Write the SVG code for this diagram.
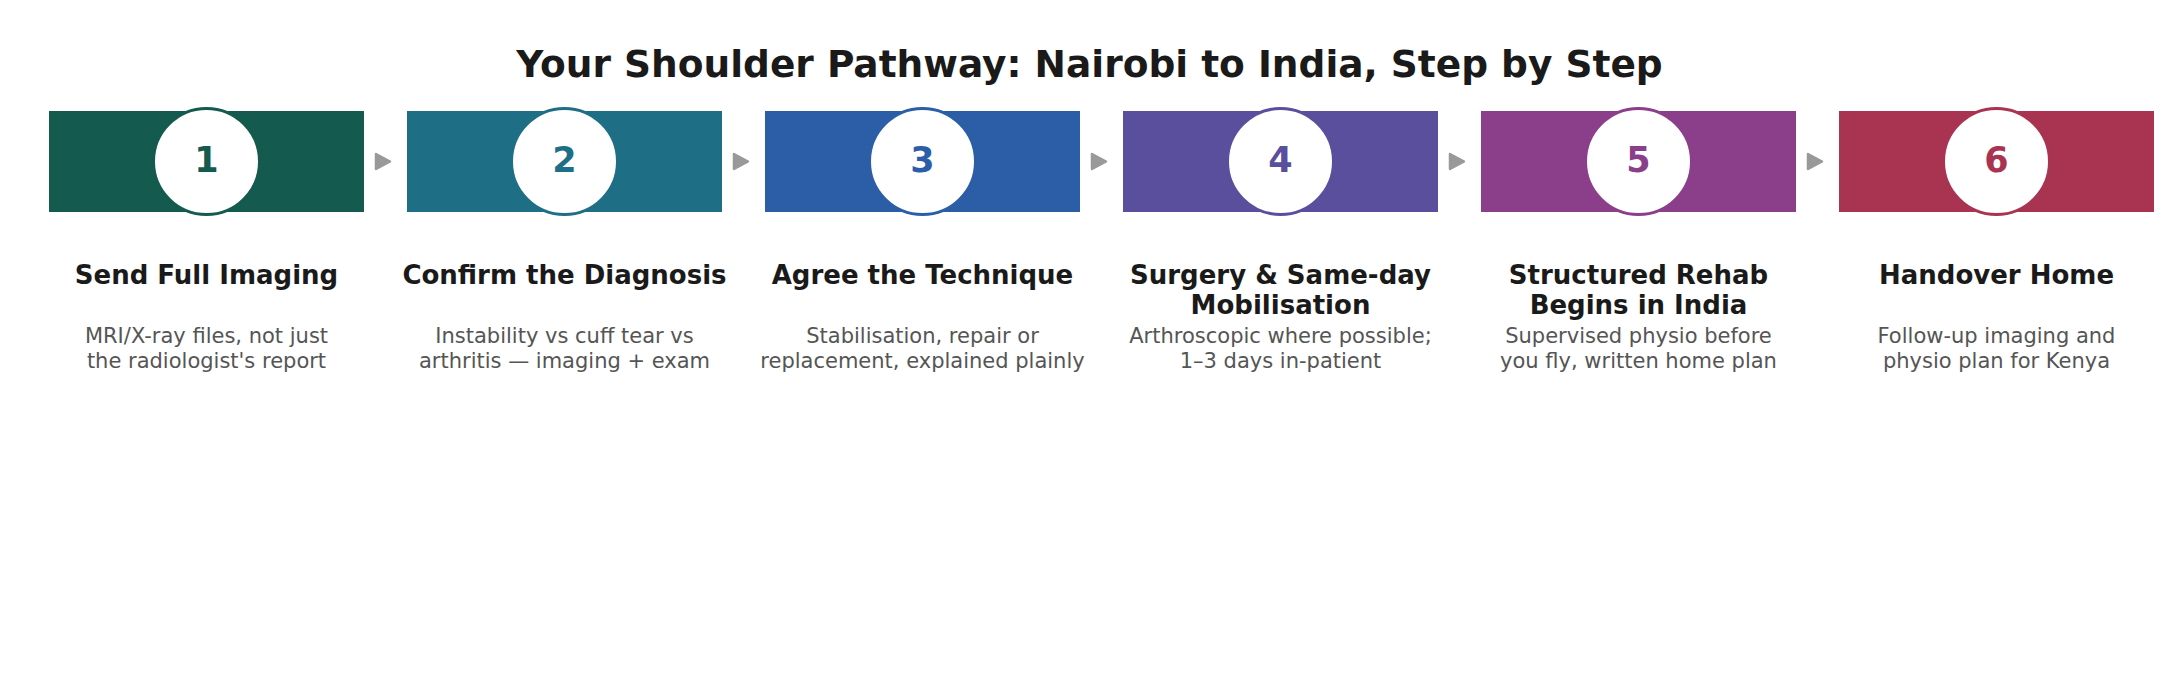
<svg xmlns="http://www.w3.org/2000/svg" width="2179" height="699" viewBox="0 0 2179 699">
<style>
.title{font-family:"DejaVu Sans",sans-serif;font-weight:bold;font-size:37.5px;fill:#1a1a1a;text-anchor:middle}
.num{font-family:"DejaVu Sans",sans-serif;font-weight:bold;font-size:35px;text-anchor:middle}
.head{font-family:"DejaVu Sans",sans-serif;font-weight:bold;font-size:26px;fill:#1a1a1a;text-anchor:middle}
.desc{font-family:"DejaVu Sans",sans-serif;font-size:21px;fill:#555555;text-anchor:middle}
.circ{fill:#ffffff;stroke-width:3}
.arrow{fill:#999999;stroke:#999999;stroke-width:2.5;stroke-linejoin:round}
</style>
<rect width="2179" height="699" fill="#ffffff"/>
<text class="title" x="1089.5" y="77">Your Shoulder Pathway: Nairobi to India, Step by Step</text>
<g id="connectors">
<path class="arrow" d="M376,154 L390,161.5 L376,169 Z"/>
<path class="arrow" d="M734,154 L748,161.5 L734,169 Z"/>
<path class="arrow" d="M1092,154 L1106,161.5 L1092,169 Z"/>
<path class="arrow" d="M1450,154 L1464,161.5 L1450,169 Z"/>
<path class="arrow" d="M1808,154 L1822,161.5 L1808,169 Z"/>
</g>
<g id="step1">
<rect x="49" y="111" width="315" height="101" fill="#145a4e"/>
<circle class="circ" cx="206.5" cy="161.5" r="53" stroke="#145a4e"/>
<text class="num" x="206.5" y="172" fill="#145a4e">1</text>
<text class="head" x="206.5" y="284">Send Full Imaging</text>
<text class="desc" x="206.5" y="343">MRI/X-ray files, not just</text>
<text class="desc" x="206.5" y="368">the radiologist's report</text>
</g>
<g id="step2">
<rect x="407" y="111" width="315" height="101" fill="#1e6e86"/>
<circle class="circ" cx="564.5" cy="161.5" r="53" stroke="#1e6e86"/>
<text class="num" x="564.5" y="172" fill="#1e6e86">2</text>
<text class="head" x="564.5" y="284">Confirm the Diagnosis</text>
<text class="desc" x="564.5" y="343">Instability vs cuff tear vs</text>
<text class="desc" x="564.5" y="368">arthritis — imaging + exam</text>
</g>
<g id="step3">
<rect x="765" y="111" width="315" height="101" fill="#2c5ea8"/>
<circle class="circ" cx="922.5" cy="161.5" r="53" stroke="#2c5ea8"/>
<text class="num" x="922.5" y="172" fill="#2c5ea8">3</text>
<text class="head" x="922.5" y="284">Agree the Technique</text>
<text class="desc" x="922.5" y="343">Stabilisation, repair or</text>
<text class="desc" x="922.5" y="368">replacement, explained plainly</text>
</g>
<g id="step4">
<rect x="1123" y="111" width="315" height="101" fill="#5a4f9d"/>
<circle class="circ" cx="1280.5" cy="161.5" r="53" stroke="#5a4f9d"/>
<text class="num" x="1280.5" y="172" fill="#5a4f9d">4</text>
<text class="head" x="1280.5" y="284">Surgery &amp; Same-day</text>
<text class="head" x="1280.5" y="314">Mobilisation</text>
<text class="desc" x="1280.5" y="343">Arthroscopic where possible;</text>
<text class="desc" x="1280.5" y="368">1–3 days in-patient</text>
</g>
<g id="step5">
<rect x="1481" y="111" width="315" height="101" fill="#8b3f8b"/>
<circle class="circ" cx="1638.5" cy="161.5" r="53" stroke="#8b3f8b"/>
<text class="num" x="1638.5" y="172" fill="#8b3f8b">5</text>
<text class="head" x="1638.5" y="284">Structured Rehab</text>
<text class="head" x="1638.5" y="314">Begins in India</text>
<text class="desc" x="1638.5" y="343">Supervised physio before</text>
<text class="desc" x="1638.5" y="368">you fly, written home plan</text>
</g>
<g id="step6">
<rect x="1839" y="111" width="315" height="101" fill="#a83452"/>
<circle class="circ" cx="1996.5" cy="161.5" r="53" stroke="#a83452"/>
<text class="num" x="1996.5" y="172" fill="#a83452">6</text>
<text class="head" x="1996.5" y="284">Handover Home</text>
<text class="desc" x="1996.5" y="343">Follow-up imaging and</text>
<text class="desc" x="1996.5" y="368">physio plan for Kenya</text>
</g>
</svg>
